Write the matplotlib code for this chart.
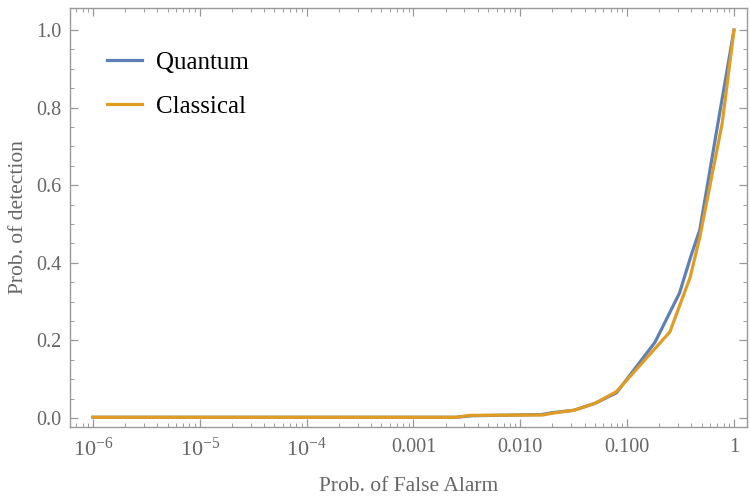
import matplotlib
matplotlib.use("Agg")
import matplotlib.pyplot as plt
import numpy as np
from matplotlib.ticker import FixedLocator, FixedFormatter, NullFormatter

plt.rcParams['font.family'] = ['Liberation Serif', 'DejaVu Serif']
plt.rcParams['mathtext.fontset'] = 'custom'
plt.rcParams['mathtext.rm'] = 'Liberation Serif'
plt.rcParams['mathtext.it'] = 'Liberation Serif'

# ROC-Daten (log10 der Fehlalarmwahrscheinlichkeit, Detektionswahrscheinlichkeit)
quantum_logx = [-6, -2.6, -2.45, -1.8, -1.7, -1.5, -1.3, -1.1, -0.74, -0.51, -0.40, -0.32, -0.15, 0]
quantum_y = [0.002, 0.002, 0.006, 0.009, 0.014, 0.020, 0.038, 0.065, 0.195, 0.322, 0.42, 0.485, 0.76, 1.0]
classical_logx = [-6, -2.6, -2.47, -1.79, -1.69, -1.5, -1.3, -1.1, -0.60, -0.41, -0.32, -0.11, 0]
classical_y = [0.002, 0.002, 0.007, 0.008, 0.013, 0.020, 0.038, 0.068, 0.222, 0.363, 0.466, 0.76, 1.0]

xtick_vals = [1e-6, 1e-5, 1e-4, 1e-3, 1e-2, 1e-1, 1]
xtick_labels = ['$10^{-6}$', '$10^{-5}$', '$10^{-4}$', '0.001', '0.010', '0.100', '1']
ytick_vals = [0.0, 0.2, 0.4, 0.6, 0.8, 1.0]

blue = '#5E81B5'
orange = '#E19C24'
gray = '#666666'

fig = plt.figure(figsize=(7.5, 4.98), dpi=100)
ax = fig.add_axes([0.0933, 0.1426, 0.9027, 0.8414])

ax.plot(10.0 ** np.array(quantum_logx), quantum_y, color=blue, lw=2.3, label='Quantum')
ax.plot(10.0 ** np.array(classical_logx), classical_y, color=orange, lw=2.3, label='Classical')

ax.set_xscale('log')
ax.set_xlim(10 ** -6.215, 10 ** 0.122)
ax.set_ylim(-0.023, 1.057)

ax.xaxis.set_major_locator(FixedLocator(xtick_vals))
ax.xaxis.set_major_formatter(FixedFormatter(xtick_labels))
minors = [m * 10.0 ** e for e in range(-7, 1) for m in range(2, 10)]
ax.xaxis.set_minor_locator(FixedLocator(minors))
ax.xaxis.set_minor_formatter(NullFormatter())
ax.set_yticks(ytick_vals)
ax.set_yticklabels(['0.0', '0.2', '0.4', '0.6', '0.8', '1.0'])
ax.set_yticks(np.arange(0, 1.05, 0.05), minor=True)

for s in ax.spines.values():
    s.set_color('#999999')
    s.set_linewidth(1.0)
ax.tick_params(which='both', direction='in', top=True, right=True, colors='#999999',
               labelcolor=gray, labelsize=14.5)
ax.tick_params(which='major', length=6, width=0.9)
ax.tick_params(which='minor', length=3, width=0.7)
ax.tick_params(axis='x', pad=8)
ax.tick_params(axis='y', pad=6)

# Zehnerpotenzen etwas größer, wie im Original
for lbl in ax.get_xticklabels()[:3]:
    lbl.set_fontsize(16)

ax.set_xlabel('Prob. of False Alarm', fontsize=15.5, color=gray, labelpad=11)
ax.set_ylabel('Prob. of detection', fontsize=15.5, color=gray, labelpad=6)

leg = ax.legend(loc='upper left', bbox_to_anchor=(0.022, 0.95), frameon=False,
                fontsize=18, handlelength=1.4, handletextpad=0.55, labelspacing=0.85)

fig.savefig('out.png', dpi=100)
